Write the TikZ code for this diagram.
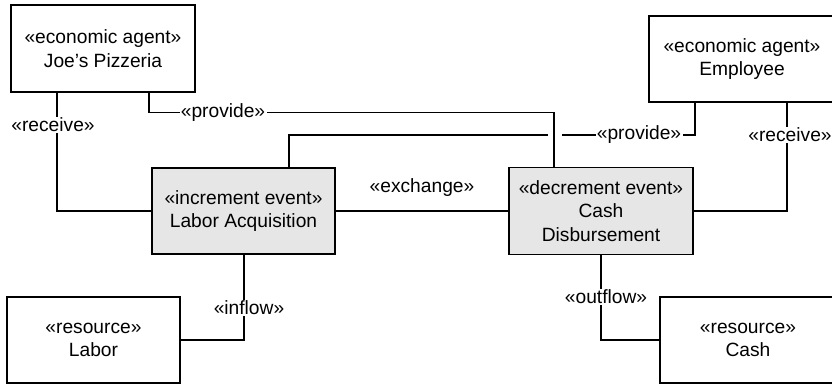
\documentclass[tikz,border=0pt]{standalone}
\usepackage{fontspec}
\setmainfont{Liberation Sans}
\usepackage{tikz}
\usetikzlibrary{calc}
\definecolor{eventgray}{HTML}{E6E6E6}

\begin{document}
\begin{tikzpicture}[x=0.75pt,y=-0.75pt,
    box/.style={draw=black,line width=1.1pt,fill=white,inner sep=0pt,align=center,
      font=\fontsize{14.4}{17.5}\selectfont},
    eventbox/.style={box,fill=eventgray},
    conn/.style={draw=black,line width=0.8pt},
    lbl/.style={fill=white,inner sep=1pt,font=\fontsize{14.4}{17.5}\selectfont}]
  \useasboundingbox (0,0) rectangle (832,384);
  \node [box,minimum width=138pt,minimum height=65.25pt] (joe) at (103,48.5) {«economic agent»\\Joe’s Pizzeria};
  \node [box,minimum width=139.5pt,minimum height=64.5pt] (emp) at (742,59) {«economic agent»\\Employee};
  \node [eventbox,minimum width=137.25pt,minimum height=64.5pt] (labacq) at (243.5,211) {«increment event»\\Labor Acquisition};
  \node [eventbox,minimum width=138pt,minimum height=65.25pt] (cashd) at (601,211) {«decrement event»\\Cash\\Disbursement};
  \node [box,minimum width=129.75pt,minimum height=64.5pt] (labor) at (93.5,340) {«resource»\\Labor};
  \node [box,minimum width=132pt,minimum height=64.5pt] (cash) at (748,340) {«resource»\\Cash};
  \coordinate (hopR) at (562,135);
  \coordinate (hopL) at (548,135);
  \draw [conn] ($(joe.south)+(-46,0)$) |- (labacq.west);
  \draw [conn] ($(joe.south)+(46,0)$) |- ($(cashd.north)+(-47,-54)$) -- ($(cashd.north)+(-47,0)$);
  \draw [conn] ($(emp.south)+(-47,0)$) |- (hopR);
  \draw [conn] (hopL) -| ($(labacq.north)+(45.5,0)$);
  \draw [conn] ($(emp.south)+(45,0)$) |- (cashd.east);
  \draw [conn] (labacq.east) -- (cashd.west);
  \draw [conn] ($(labacq.south)+(0.5,0)$) |- (labor.east);
  \draw [conn] (cashd.south) |- (cash.west);
  \node [lbl] (rcvJ) at (53,125) {«receive»};
  \node [lbl] (provJ) at (223,113) {«provide»};
  \node [lbl] (provE) at (639,135) {«provide»};
  \node [lbl] (rcvE) at (790,135) {«receive»};
  \node [lbl] (exch) at (422,188) {«exchange»};
  \node [lbl] (infl) at (249,308) {«inflow»};
  \node [lbl] (outf) at (606,297) {«outflow»};
\end{tikzpicture}
\end{document}
